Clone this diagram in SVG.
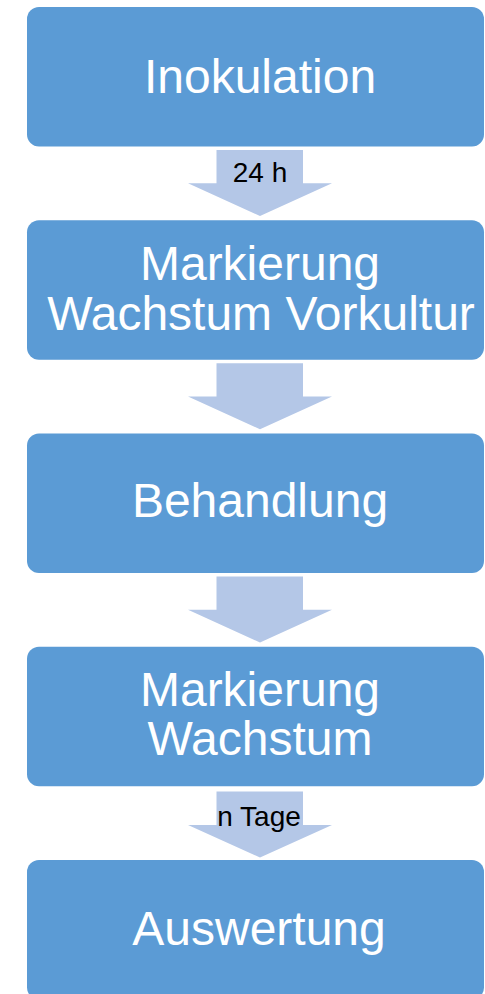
<svg xmlns="http://www.w3.org/2000/svg" width="485" height="994" viewBox="0 0 485 994">
<style>
.box{fill:#5B9BD5}
.arrow{fill:#B4C7E7}
.t{font-family:"Liberation Sans",Arial,sans-serif;font-size:48px;fill:#FFFFFF;text-anchor:middle}
.l{font-family:"Liberation Sans",Arial,sans-serif;font-size:28px;fill:#000000;text-anchor:middle}
</style>
<rect width="485" height="994" fill="#FFFFFF"/>
<g id="connectors">
<g id="arrow1"><polygon class="arrow" points="216.5,150 303,150 303,183.3 332,183.3 260,216 188,183.3 216.5,183.3"/><text class="l" x="260" y="181.7">24 h</text></g>
<g id="arrow2"><polygon class="arrow" points="216.5,363.3 303,363.3 303,396.5 332,396.5 260,429.3 188,396.5 216.5,396.5"/></g>
<g id="arrow3"><polygon class="arrow" points="216.5,576.5 303,576.5 303,609.8 332,609.8 260,642.5 188,609.8 216.5,609.8"/></g>
<g id="arrow4"><polygon class="arrow" points="216.5,791.5 303,791.5 303,825 332,825 260,857.5 188,825 216.5,825"/><text class="l" x="259" y="826">n Tage</text></g>
</g>
<g id="node1"><rect class="box" x="27" y="7" width="457" height="139.5" rx="12"/><text class="t" x="260" y="93">Inokulation</text></g>
<g id="node2"><rect class="box" x="27" y="220.25" width="457" height="139.5" rx="12"/><text class="t" x="260" y="280">Markierung</text><text class="t" x="261" y="330">Wachstum Vorkultur</text></g>
<g id="node3"><rect class="box" x="27" y="433.5" width="457" height="139.5" rx="12"/><text class="t" x="260" y="517">Behandlung</text></g>
<g id="node4"><rect class="box" x="27" y="646.75" width="457" height="139.5" rx="12"/><text class="t" x="260" y="706">Markierung</text><text class="t" x="260" y="755">Wachstum</text></g>
<g id="node5"><rect class="box" x="27" y="860" width="457" height="139.5" rx="12"/><text class="t" x="259" y="945">Auswertung</text></g>
</svg>
